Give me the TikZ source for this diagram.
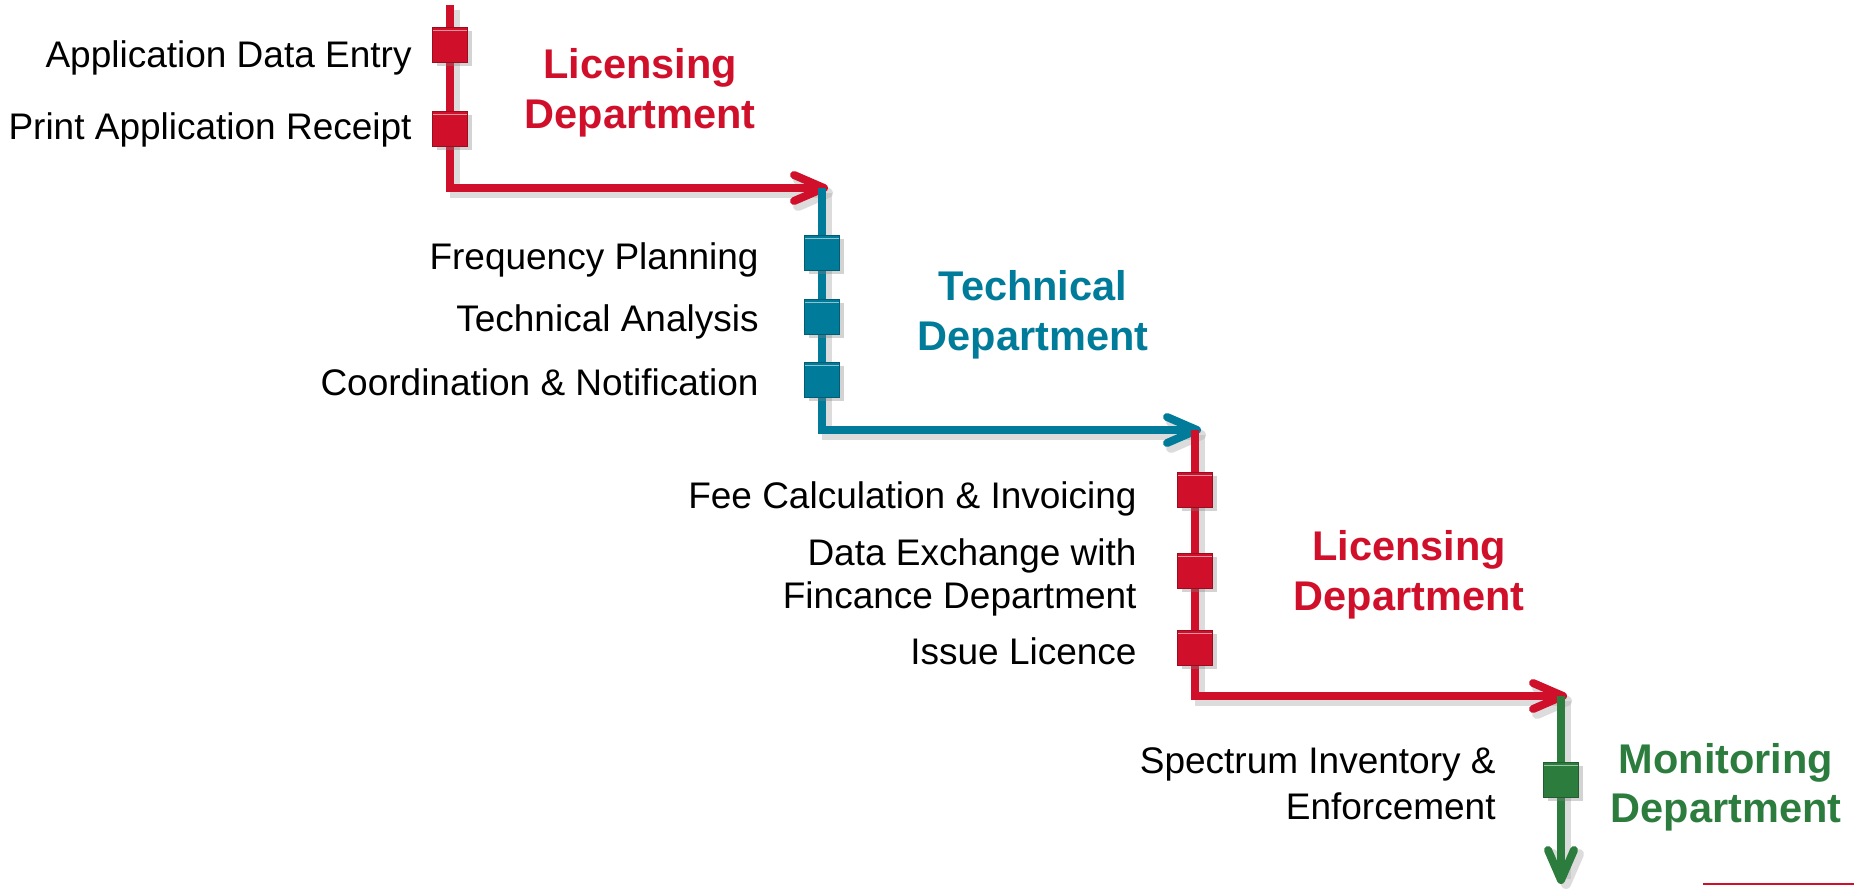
\documentclass[tikz,border=0pt]{standalone}
\usepackage{fontspec}
\setmainfont{Liberation Sans}
\usetikzlibrary{arrows.meta,shadows}
\definecolor{licred}{RGB}{208,16,42}
\definecolor{techteal}{RGB}{0,124,154}
\definecolor{mongreen}{RGB}{44,124,62}

\begin{document}
\begin{tikzpicture}[
    x=0.5pt, y=-0.5pt,
    flow/.style={draw=#1, line width=4pt, -{Straight Barb[length=15pt,width=13pt,round]},
        preaction={draw=black!30, opacity=.45, line width=5pt, transform canvas={xshift=2.5pt,yshift=-2.5pt}}},
    stepsq/.style={draw=#1!75!black, fill=#1, line width=.6pt, minimum size=17.5pt, inner sep=0pt,
        drop shadow={shadow xshift=2pt, shadow yshift=-1.5pt, opacity=.35},
        path picture={\draw[white, opacity=.55, line width=.8pt]
            ([yshift=-1.4pt]path picture bounding box.north west) -- ([yshift=-1.4pt]path picture bounding box.north east);}},
    task/.style={font=\fontsize{18.5}{21.5}\selectfont, align=right, anchor=base east, inner sep=0pt},
    dept/.style={font=\fontsize{20.75}{25}\selectfont\bfseries, text=#1, align=center, anchor=base, inner sep=0pt}
]
\useasboundingbox (0,0) rectangle (1854,889);

\coordinate (top1) at (450,5);
\coordinate (turn1) at (450,188);
\coordinate (top2) at (822,188);
\coordinate (turn2) at (822,430);
\coordinate (top3) at (1195,430);
\coordinate (turn3) at (1195,696);
\coordinate (top4) at (1561,696);
\coordinate (end4) at (1561,884);

% the four stages
\draw[flow=licred, shorten >=-3pt] (top1) -- (turn1) -- (top2);
\draw[flow=techteal, shorten >=-3pt] (top2) -- (turn2) -- (top3);
\draw[flow=licred, shorten >=-3pt] (top3) -- (turn3) -- (top4);
\draw[flow=mongreen] (top4) -- (end4);

\foreach \y/\n in {45/entry, 129/receipt}
    \node[stepsq=licred] (sq-\n) at (450,\y) {};
\foreach \y/\n in {253/freq, 317/anal, 380/coord}
    \node[stepsq=techteal] (sq-\n) at (822,\y) {};
\foreach \y/\n in {490/fee, 571/exch, 648/issue}
    \node[stepsq=licred] (sq-\n) at (1195,\y) {};
\node[stepsq=mongreen] (sq-inv) at (1561,780) {};

% labels (multi-line ones sit on their last baseline)
\node[task] (t-entry) at (412,67) {Application Data Entry};
\node[task] (t-receipt) at (412,139) {Print Application Receipt};
\node[task] (t-freq) at (759,269) {Frequency Planning};
\node[task] (t-anal) at (759,331) {Technical Analysis};
\node[task] (t-coord) at (759,395) {Coordination \& Notification};
\node[task] (t-fee) at (1137,508) {Fee Calculation \& Invoicing};
\node[task] (t-exch) at (1137,608) {Data Exchange with\\Fincance Department};
\node[task] (t-issue) at (1137,664) {Issue Licence};
\node[task, font=\fontsize{18.5}{23}\selectfont] (t-inv) at (1496,819) {Spectrum Inventory \&\\Enforcement};

\node[dept=licred] (d-lic1) at (640,128) {Licensing\\Department};
\node[dept=techteal] (d-tech) at (1033,350) {Technical\\Department};
\node[dept=licred] (d-lic2) at (1409,610) {Licensing\\Department};
\node[dept=mongreen, font=\fontsize{20.75}{24.5}\selectfont\bfseries] (d-mon) at (1726,822) {Monitoring\\Department};

\draw[licred, line width=1.2pt] (1703,884) -- (1854,884);
\end{tikzpicture}
\end{document}
